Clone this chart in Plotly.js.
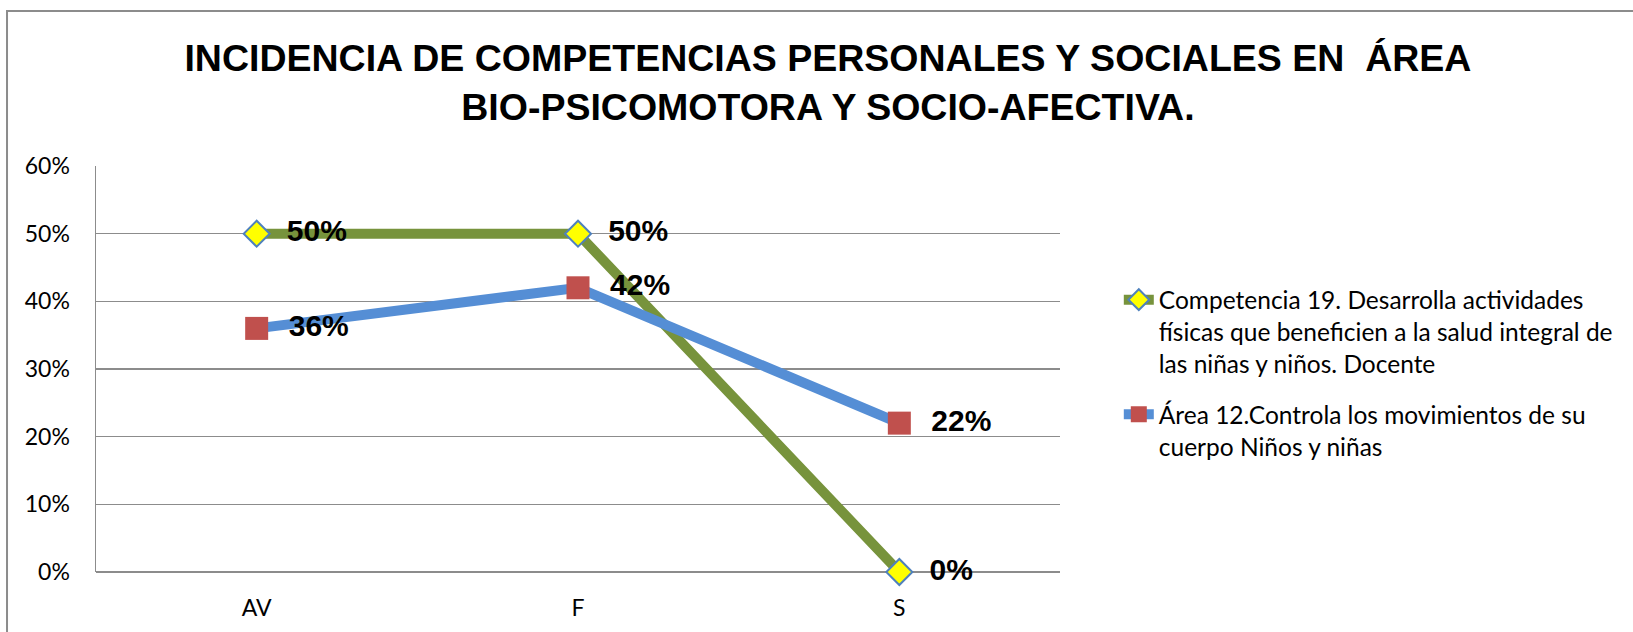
<!DOCTYPE html>
<html>
<head>
<meta charset="utf-8">
<script src="https://cdn.plot.ly/plotly-3.0.1.min.js"></script>
<style>
html,body{margin:0;padding:0;background:#fff;}
#chart{width:1633px;height:632px;}
</style>
</head>
<body>
<div id="chart"></div>
<script>
var categories = ["AV", "F", "S"];
var competenciaValues = [0.50, 0.50, 0.00];
var areaValues = [0.36, 0.42, 0.22];
var competenciaName = "Competencia 19. Desarrolla actividades<br>físicas que beneficien a la salud integral de<br>las niñas y niños. Docente";
var areaName = "Área 12.Controla los movimientos de su<br>cuerpo Niños y niñas";
var yTickValues = [0, 0.1, 0.2, 0.3, 0.4, 0.5, 0.6];
var yTickLabels = ["0%", "10%", "20%", "30%", "40%", "50%", "60%"];
var titleText = "INCIDENCIA DE COMPETENCIAS PERSONALES Y SOCIALES EN  ÁREA<br>BIO-PSICOMOTORA Y SOCIO-AFECTIVA.";

function pctLabels(vals){ return vals.map(function(v){ return "  " + Math.round(v*100) + "%"; }); }

var traces = [
  {
    x: categories, y: competenciaValues, name: competenciaName, legendgroup: "g1",
    type: "scatter", mode: "lines+markers+text",
    line: {color: "#77933C", width: 10},
    marker: {symbol: "diamond", size: 20, color: "#FFFF00", line: {color: "#4F81BD", width: 2}},
    text: pctLabels(competenciaValues), textposition: "middle right",
    textfont: {family: "Liberation Sans, Arial, sans-serif", size: 30, color: "#000", weight: "bold"},
    cliponaxis: false
  },
  {
    x: categories, y: areaValues, name: areaName, legendgroup: "g2",
    type: "scatter", mode: "lines+markers+text",
    line: {color: "#558ED5", width: 10},
    marker: {symbol: "square", size: 23, color: "#C0504D", line: {color: "#C0504D", width: 0}},
    text: pctLabels(areaValues), textposition: "middle right",
    textfont: {family: "Liberation Sans, Arial, sans-serif", size: 30, color: "#000", weight: "bold"},
    cliponaxis: false
  }
];

var layout = {
  width: 1633, height: 632,
  paper_bgcolor: "#fff", plot_bgcolor: "#fff",
  margin: {l: 96, r: 573, t: 166, b: 60, pad: 0},
  title: {
    text: titleText, xref: "container", x: 0.507, xanchor: "center",
    yref: "container", y: 0.888, yanchor: "middle",
    font: {family: "Liberation Sans, Arial, sans-serif", size: 37.5, color: "#000", weight: "bold"}
  },
  xaxis: {
    type: "category", range: [-0.5, 2.5],
    showgrid: false, zeroline: false, showline: false,
    ticks: "", ticklabelstandoff: 20,
    tickfont: {family: "Lato, sans-serif", size: 23, color: "#000"}
  },
  yaxis: {
    range: [0, 0.6], tickvals: yTickValues, ticktext: yTickLabels,
    showgrid: true, gridcolor: "#8C8C8C", gridwidth: 1.5,
    zeroline: true, zerolinecolor: "#8C8C8C", zerolinewidth: 1.5,
    showline: true, linecolor: "#8C8C8C", linewidth: 1.5,
    ticks: "", ticklabelstandoff: 20,
    tickfont: {family: "Lato, sans-serif", size: 23, color: "#000"}
  },
  showlegend: true,
  legend: {
    x: 1.061, xanchor: "left", y: 0.726, yanchor: "top",
    valign: "top", traceorder: "grouped", tracegroupgap: 16,
    font: {family: "Lato, sans-serif", size: 24.5, color: "#000"},
    bgcolor: "rgba(0,0,0,0)", borderwidth: 0
  },
  shapes: [
    {type: "rect", xref: "paper", yref: "paper",
     x0: -0.0923, x1: 1.8, y0: -0.6, y1: 1.3818,
     line: {color: "#8C8C8C", width: 2}, fillcolor: "rgba(0,0,0,0)", layer: "below"}
  ]
};

Plotly.newPlot("chart", traces, layout, {displayModeBar: false, staticPlot: true});
</script>
</body>
</html>
